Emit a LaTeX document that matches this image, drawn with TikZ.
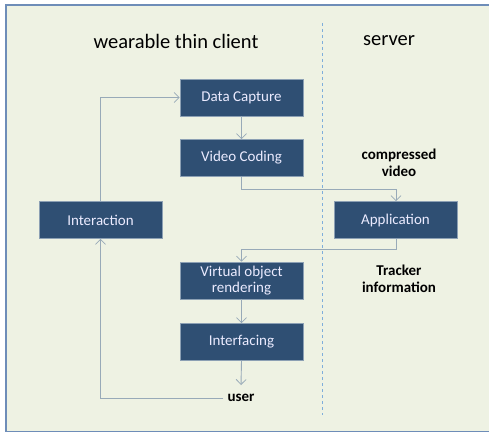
\documentclass[tikz,border=0pt]{standalone}
\usepackage{fontspec}
\setmainfont{Carlito}
\usetikzlibrary{arrows.meta}
\definecolor{bgc}{HTML}{EEF2E3}
\definecolor{framec}{HTML}{6E8DB8}
\definecolor{boxc}{HTML}{2F4F73}
\definecolor{boxline}{HTML}{8CA0B4}
\definecolor{linec}{HTML}{98AAB8}
\definecolor{dashc}{HTML}{7FAEDB}
\begin{document}
\begin{tikzpicture}[x=1pt,y=-1pt,
  blk/.style={draw=boxline,line width=0.6pt,fill=boxc,text=white!92!blue,minimum width=123pt,minimum height=37pt,inner sep=0pt,align=center,font=\fontsize{15}{15.5}\selectfont},
  lbl/.style={align=center,inner sep=0pt,font=\fontsize{15}{17.5}\selectfont\bfseries},
  ttl/.style={inner sep=0pt,font=\fontsize{20.5}{22}\selectfont},
  conn/.style={draw=linec,line width=0.9pt,-{Straight Barb[length=5pt,width=10pt,line width=0.8pt]}},
  plain/.style={draw=linec,line width=0.9pt}]
\useasboundingbox (0,0) rectangle (489,433);
\fill[white] (0,0) rectangle (489,433);
\fill[bgc] (6,5) rectangle (489,431.5);
\draw[framec,line width=1.8pt] (489,5) -- (6,5) -- (6,431.5) -- (489,431.5);
\node[ttl] (tc) at (176,41) {wearable thin client};
\node[ttl] (ts) at (389,41) {server};
\draw[dashc,line width=1pt,dash pattern=on 3pt off 3pt] (322,23) -- (322,415);
\node[blk] (dc) at (241.5,97.5) {Data Capture};
\node[blk] (vc) at (241.5,158) {Video Coding};
\node[blk] (ia) at (100.5,220) {Interaction};
\node[blk] (ap) at (395.5,220) {Application};
\node[blk] (vr) at (241.5,280.5) {Virtual object\\rendering};
\node[blk] (if) at (241.5,342) {Interfacing};
\node[lbl] (cv) at (399,163) {compressed\\video};
\node[lbl] (ti) at (399,279) {Tracker\\information};
\node[lbl] (us) at (241,398) {user};
\coordinate (ue) at (241,385);
\draw[conn] (dc) -- (vc);
\draw[conn] (vc.south) |- (396,189) -- (ap.north -| 396,0);
\draw[conn] (ap.south -| 396,0) |- (241.5,249) -- (vr.north);
\draw[conn] (vr) -- (if);
\draw[conn] (if.south) -- (ue);
\draw[conn] (us.west) ++(-4,0) -| (ia.south);
\draw[conn] (ia.north) |- (dc.west);
\end{tikzpicture}
\end{document}
